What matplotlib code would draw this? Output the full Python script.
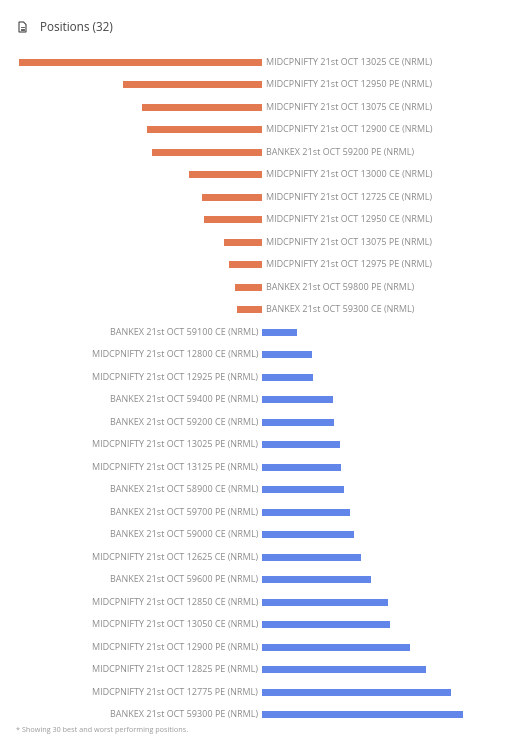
import matplotlib
matplotlib.use("Agg")
import matplotlib.pyplot as plt
from matplotlib.patches import Polygon
from matplotlib.lines import Line2D

plt.rcParams['font.family'] = ['Open Sans', 'DejaVu Sans']

labels = [
    "MIDCPNIFTY 21st OCT 13025 CE (NRML)",
    "MIDCPNIFTY 21st OCT 12950 PE (NRML)",
    "MIDCPNIFTY 21st OCT 13075 CE (NRML)",
    "MIDCPNIFTY 21st OCT 12900 CE (NRML)",
    "BANKEX 21st OCT 59200 PE (NRML)",
    "MIDCPNIFTY 21st OCT 13000 CE (NRML)",
    "MIDCPNIFTY 21st OCT 12725 CE (NRML)",
    "MIDCPNIFTY 21st OCT 12950 CE (NRML)",
    "MIDCPNIFTY 21st OCT 13075 PE (NRML)",
    "MIDCPNIFTY 21st OCT 12975 PE (NRML)",
    "BANKEX 21st OCT 59800 PE (NRML)",
    "BANKEX 21st OCT 59300 CE (NRML)",
    "BANKEX 21st OCT 59100 CE (NRML)",
    "MIDCPNIFTY 21st OCT 12800 CE (NRML)",
    "MIDCPNIFTY 21st OCT 12925 PE (NRML)",
    "BANKEX 21st OCT 59400 PE (NRML)",
    "BANKEX 21st OCT 59200 CE (NRML)",
    "MIDCPNIFTY 21st OCT 13025 PE (NRML)",
    "MIDCPNIFTY 21st OCT 13125 PE (NRML)",
    "BANKEX 21st OCT 58900 CE (NRML)",
    "BANKEX 21st OCT 59700 PE (NRML)",
    "BANKEX 21st OCT 59000 CE (NRML)",
    "MIDCPNIFTY 21st OCT 12625 CE (NRML)",
    "BANKEX 21st OCT 59600 PE (NRML)",
    "MIDCPNIFTY 21st OCT 12850 CE (NRML)",
    "MIDCPNIFTY 21st OCT 13050 CE (NRML)",
    "MIDCPNIFTY 21st OCT 12900 PE (NRML)",
    "MIDCPNIFTY 21st OCT 12825 PE (NRML)",
    "MIDCPNIFTY 21st OCT 12775 PE (NRML)",
    "BANKEX 21st OCT 59300 PE (NRML)",
]
values = [-243, -139, -120, -115, -110, -73, -60, -58, -38, -33, -27, -25,
          35, 50, 51, 71, 72, 78, 79, 82, 88, 92, 99, 109, 126, 128, 148, 164, 189, 201]

title = "Positions (32)"
footnote = "* Showing 30 best and worst performing positions."

neg_color = "#E37951"
pos_color = "#6285EA"
label_color = "#8c8c8c"

W, H = 506, 744
fig = plt.figure(figsize=(W / 100, H / 100), dpi=100)

ax_left, ax_right = 10, 500
ax_top, ax_bot = 51, 726
ax = fig.add_axes([ax_left / W, 1 - ax_bot / H, (ax_right - ax_left) / W, (ax_bot - ax_top) / H])
ax.set_xlim(ax_left - 262, ax_right - 262)
n = len(values)
ys = list(range(n))
row_px = (714.5 - 62.5) / (n - 1)
top = -(62.5 - ax_top) / row_px
bot = top + (ax_bot - ax_top) / row_px
ax.set_ylim(bot, top)
colors = [neg_color if v < 0 else pos_color for v in values]
ax.barh(ys, values, height=0.31, color=colors, edgecolor='none')
for y, v, lab in zip(ys, values, labels):
    if v < 0:
        ax.text(4.5, y, lab, ha='left', va='center', fontsize=6.45, color=label_color)
    else:
        ax.text(-4, y, lab, ha='right', va='center', fontsize=6.45, color=label_color)
ax.axis('off')

fig.text(40 / W, 1 - 27.5 / H, title, ha='left', va='center', fontsize=8.5, color='#444444')

def fx(x):
    return x / W
def fy(y):
    return 1 - y / H
ix0, iy0, iw, ih = 19, 22, 7, 10
fold = 2.5
pts = [(fx(ix0), fy(iy0)), (fx(ix0 + iw - fold), fy(iy0)), (fx(ix0 + iw), fy(iy0 + fold)),
       (fx(ix0 + iw), fy(iy0 + ih)), (fx(ix0), fy(iy0 + ih))]
fig.patches.append(Polygon(pts, closed=True, fill=False, edgecolor='#444444', linewidth=0.8,
                           transform=fig.transFigure))
for yy in (iy0 + 4.5, iy0 + 6.5, iy0 + 8.3):
    fig.lines.append(Line2D([fx(ix0 + 1.7), fx(ix0 + iw - 1.7)], [fy(yy), fy(yy)],
                            color='#444444', linewidth=0.6, transform=fig.transFigure))

fig.text(16 / W, 1 - 731 / H, footnote, ha='left', va='center', fontsize=5.25, color='#999999')

fig.savefig("out.png", dpi=100)
